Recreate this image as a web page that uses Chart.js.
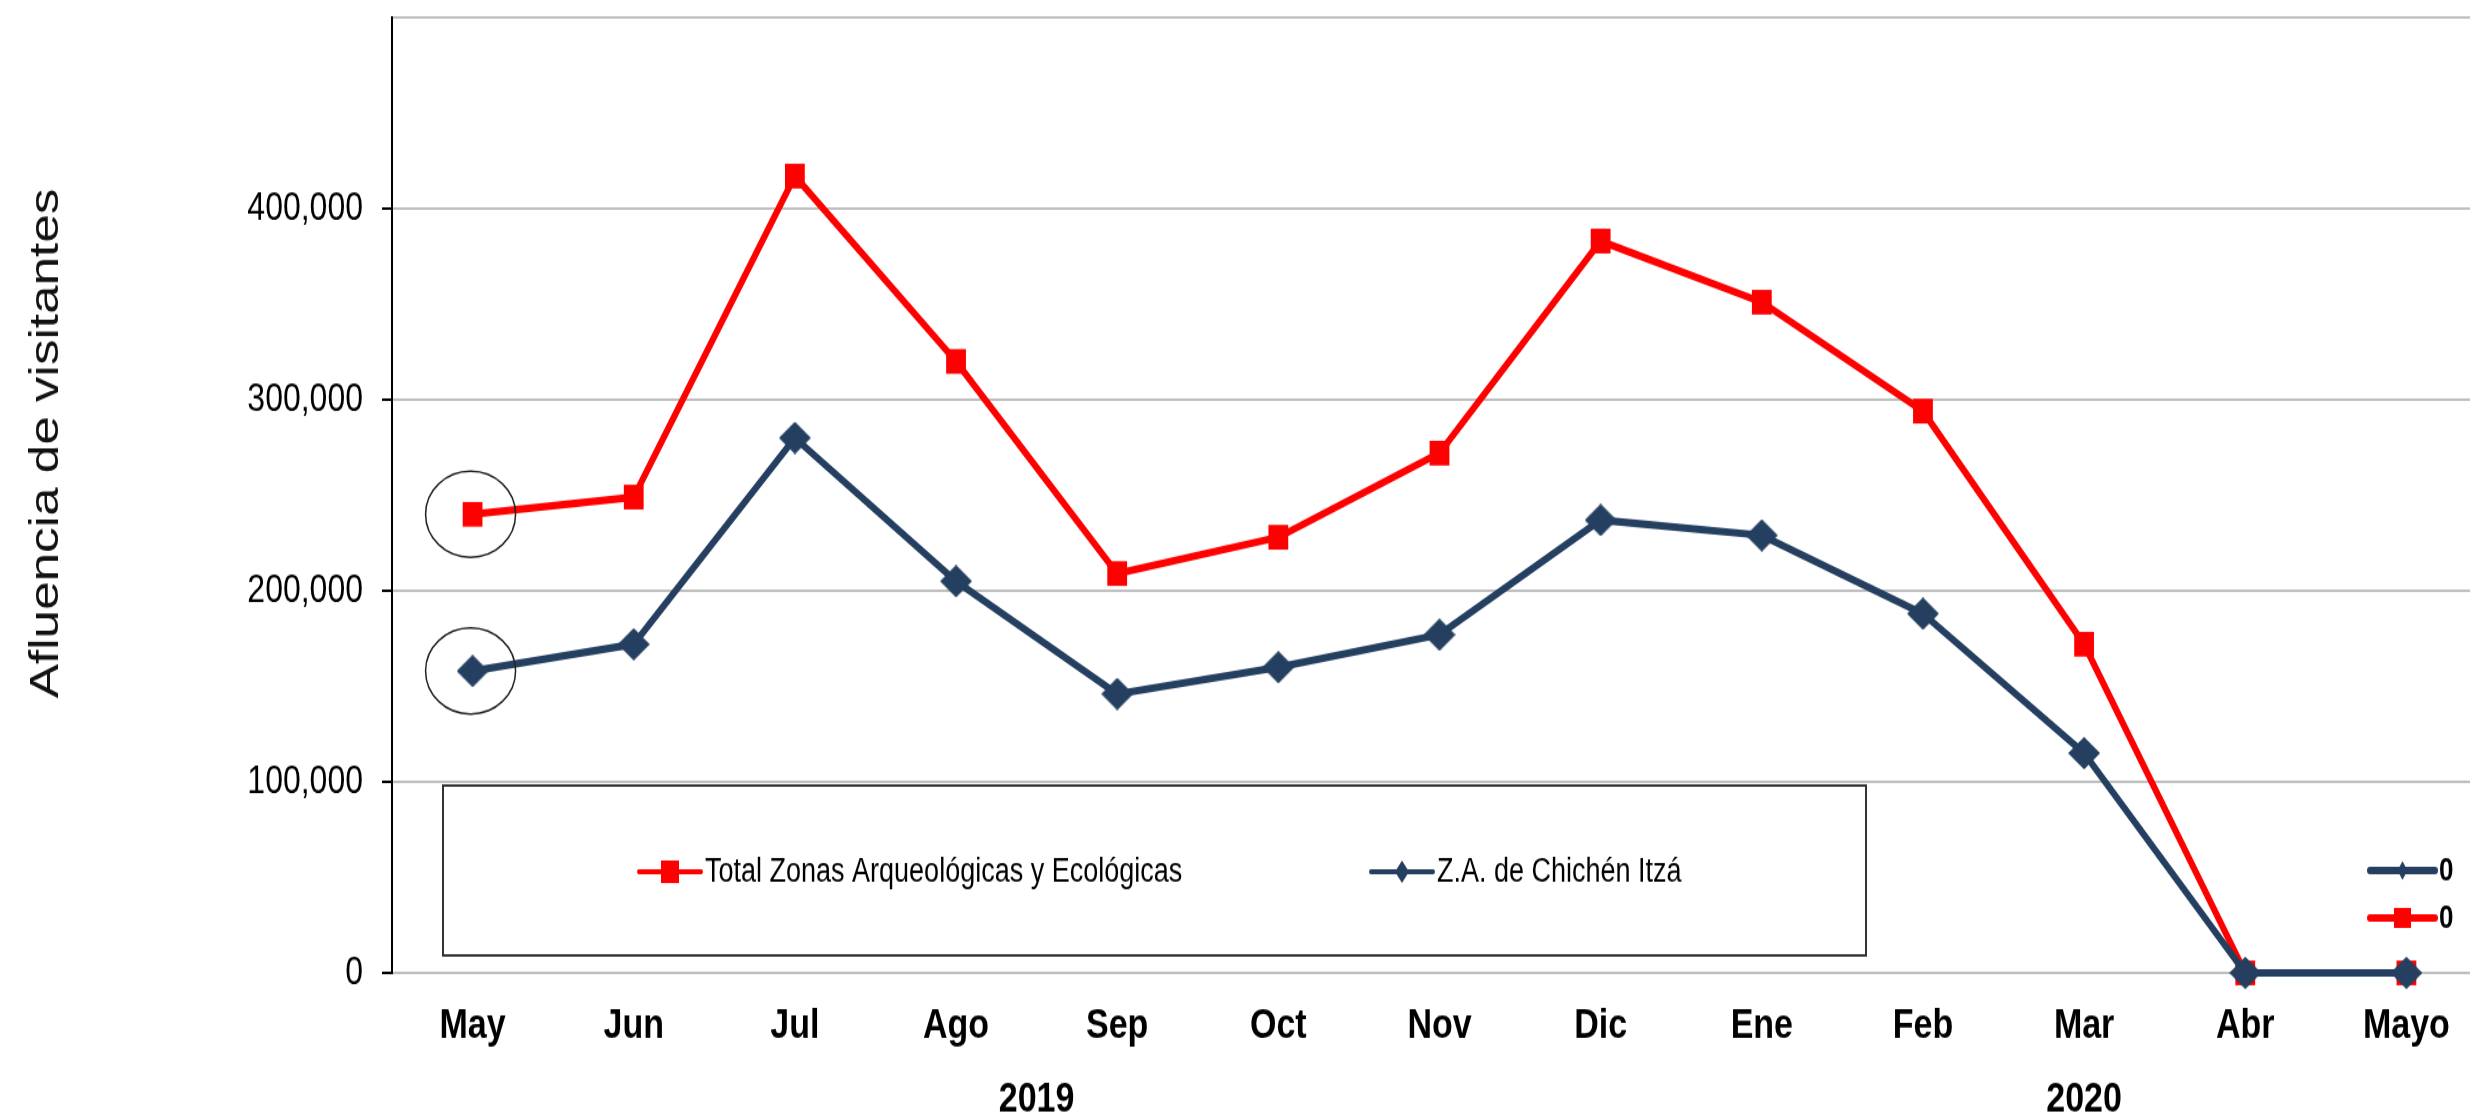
<!DOCTYPE html>
<html>
<head>
<meta charset="utf-8">
<script src="https://cdn.jsdelivr.net/npm/chart.js@4.4.1/dist/chart.umd.min.js"></script>
<style>
  html, body { margin: 0; padding: 0; background: #fff; overflow: hidden; width: 2470px; height: 1119px; }
  /* the source picture is a chart stretched vertically, so draw it flatter and stretch it */
  #wrap { width: 2500px; height: 896px; transform: scaleY(1.2489); transform-origin: 0 0; }
  canvas { display: block; }
</style>
</head>
<body>
<div id="wrap"><canvas id="chart" width="2500" height="896"></canvas></div>
<script>
// ---- data ----
const months = ['May', 'Jun', 'Jul', 'Ago', 'Sep', 'Oct', 'Nov', 'Dic', 'Ene', 'Feb', 'Mar', 'Abr', 'Mayo'];
const totalZonas = [240000, 249000, 417000, 320000, 209000, 228000, 272000, 383000, 351000, 294000, 172000, 0, 0];
const chichenItza = [158000, 172000, 280000, 205000, 146000, 160000, 177000, 237000, 229000, 188000, 115000, 0, 0];
const yearLabels = ['2019', '2020'];
const yearSpans = [[0, 7], [8, 12]];   // first / last month index of each year
const yTicks = [0, 100000, 200000, 300000, 400000, 500000];
const sideLegendLabels = ['0', '0'];

const RED = '#ff0000';
const NAVY = '#243f60';
const FONT = '"Liberation Sans", Arial, sans-serif';

// diamond marker, a bit wider than tall
function diamond(w, h, color) {
    const c = document.createElement('canvas');
    c.width = w;
    c.height = h;
    const g = c.getContext('2d');
    g.fillStyle = color;
    g.beginPath();
    g.moveTo(w / 2, 0);
    g.lineTo(w, h / 2);
    g.lineTo(w / 2, h);
    g.lineTo(0, h / 2);
    g.closePath();
    g.fill();
    return c;
}

// extra drawing: y title, year row, circles on first points, legends
const extras = {
    id: 'extras',
    afterDatasetsDraw(chart) {
        const ctx = chart.ctx;
        const x = chart.scales.x;
        const blueMeta = chart.getDatasetMeta(0);
        const redMeta = chart.getDatasetMeta(1);

        // circles round the first point of each series
        ctx.save();
        ctx.strokeStyle = '#222';
        ctx.lineWidth = 1.5;
        [redMeta, blueMeta].forEach(m => {
            const p = m.data[0];
            ctx.beginPath();
            ctx.ellipse(p.x - 2, p.y, 45, 34.5, 0, 0, Math.PI * 2);
            ctx.stroke();
        });
        ctx.restore();

        // y axis title
        ctx.save();
        ctx.translate(47, 355);
        ctx.rotate(-Math.PI / 2);
        ctx.font = '41px ' + FONT;
        ctx.fillStyle = '#111';
        ctx.textAlign = 'center';
        ctx.textBaseline = 'middle';
        ctx.fillText('Afluencia de visitantes', 0, 0);
        ctx.restore();

        // year row
        ctx.save();
        ctx.font = 'bold 34px ' + FONT;
        ctx.fillStyle = '#000';
        ctx.textAlign = 'center';
        ctx.textBaseline = 'middle';
        yearLabels.forEach((lbl, i) => {
            const cx = (x.getPixelForValue(yearSpans[i][0]) + x.getPixelForValue(yearSpans[i][1])) / 2;
            ctx.fillText(lbl, cx, 881);
        });
        ctx.restore();

        // boxed legend
        ctx.save();
        ctx.fillStyle = '#fff';
        ctx.fillRect(443, 629, 1423, 136);
        ctx.strokeStyle = '#333';
        ctx.lineWidth = 2;
        ctx.strokeRect(443, 629, 1423, 136);
        drawKey(ctx, chart.data.datasets[1], 639, 698, 62, 4, 9, 9, 27, false);
        drawKey(ctx, chart.data.datasets[0], 1371, 698, 62, 4, 7, 9, 27, false);
        ctx.restore();

        // small legend at the right edge
        ctx.save();
        drawKey(ctx, chart.data.datasets[0], 2370, 697, 65, 6, 5, 7.5, 26, true, sideLegendLabels[0]);
        drawKey(ctx, chart.data.datasets[1], 2370, 735, 65, 6, 8.5, 8, 26, true, sideLegendLabels[1]);
        ctx.restore();
    }
};

function drawKey(ctx, ds, x0, y, len, lw, rx, ry, fontSize, bold, text) {
    const color = ds.borderColor;
    ctx.strokeStyle = color;
    ctx.fillStyle = color;
    ctx.lineWidth = lw;
    ctx.lineCap = 'round';
    ctx.beginPath();
    ctx.moveTo(x0, y);
    ctx.lineTo(x0 + len, y);
    ctx.stroke();
    const cx = x0 + len / 2;
    ctx.beginPath();
    if (ds.pointStyle === 'rect') {
        ctx.rect(cx - rx, y - ry, rx * 2, ry * 2);
    } else {
        ctx.moveTo(cx, y - ry);
        ctx.lineTo(cx + rx, y);
        ctx.lineTo(cx, y + ry);
        ctx.lineTo(cx - rx, y);
        ctx.closePath();
    }
    ctx.fill();
    ctx.fillStyle = '#000';
    ctx.font = (bold ? 'bold ' : '') + fontSize + 'px ' + FONT;
    ctx.textAlign = 'left';
    ctx.textBaseline = 'middle';
    ctx.fillText(text !== undefined ? text : ds.label, x0 + len + 4, y + 1);
}

new Chart(document.getElementById('chart'), {
    type: 'line',
    data: {
        labels: months,
        datasets: [
            {
                label: 'Z.A. de Chichén Itzá',
                data: chichenItza,
                borderColor: NAVY,
                backgroundColor: NAVY,
                borderWidth: 6,
                pointStyle: diamond(32, 26, NAVY),
                pointRadius: 16,
                tension: 0,
                clip: false
            },
            {
                label: 'Total Zonas Arqueológicas y Ecológicas',
                data: totalZonas,
                borderColor: RED,
                backgroundColor: RED,
                borderWidth: 6,
                pointStyle: 'rect',
                pointRadius: 14,
                pointBorderWidth: 0,
                pointBackgroundColor: RED,
                tension: 0,
                clip: false
            }
        ]
    },
    options: {
        responsive: false,
        animation: false,
        layout: { autoPadding: false, padding: { left: 0, top: 14, right: 13, bottom: 0 } },
        plugins: {
            legend: { display: false },
            tooltip: { enabled: false }
        },
        scales: {
            x: {
                type: 'category',
                offset: true,
                grid: { display: false, drawTicks: false },
                border: { display: true, color: '#bfbfbf', width: 2 },
                ticks: {
                    color: '#000',
                    padding: 22,
                    maxRotation: 0,
                    autoSkip: false,
                    font: { family: FONT, size: 34, weight: 'bold' }
                },
                afterFit(scale) {
                    scale.height = 117;
                    scale.paddingLeft = 0;
                    scale.paddingRight = 0;
                }
            },
            y: {
                min: 0,
                max: 500000,
                afterBuildTicks(scale) { scale.ticks = yTicks.map(v => ({ value: v })); },
                grid: {
                    color: '#bfbfbf',
                    lineWidth: 2,
                    tickLength: 10,
                    tickColor: c => (c.tick && c.tick.value === 500000 ? 'rgba(0,0,0,0)' : '#000')
                },
                border: { display: true, color: '#000', width: 2 },
                ticks: {
                    color: '#000',
                    padding: 19,
                    font: { family: FONT, size: 32 },
                    callback: v => (v === 500000 ? '' : v.toLocaleString('en-US'))
                },
                afterFit(scale) {
                    scale.width = 392;
                    scale.paddingTop = 0;
                    scale.paddingBottom = 0;
                }
            }
        }
    },
    plugins: [extras]
});
</script>
</body>
</html>
